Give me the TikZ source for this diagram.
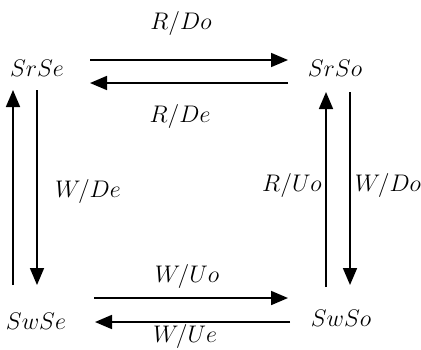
\documentclass[tikz,border=0pt]{standalone}
\usetikzlibrary{arrows.meta,calc}
\begin{document}
\begin{tikzpicture}[x=0.5pt,y=-0.5pt,
  st/.style={inner sep=0pt,font=\fontsize{11.5}{13}\selectfont},
  lb/.style={inner sep=0pt,font=\fontsize{11.5}{13}\selectfont},
  conn/.style={line width=0.85pt,-{Triangle[length=8.5pt,width=7pt]}}]
\useasboundingbox (0,0) rectangle (421,349);
\node[st] (SrSe) at (37,68) {$SrSe$};
\node[st] (SrSo) at (335,68) {$SrSo$};
\node[st] (SwSe) at (36,321) {$SwSe$};
\node[st] (SwSo) at (341,318) {$SwSo$};
% top
\draw[conn] ($(SrSe)+(53,-8)$) -- ($(SrSo)+(-47,-8)$);
\draw[conn] ($(SrSo)+(-47,15)$) -- ($(SrSe)+(53,15)$);
\node[lb] (lRDo) at (181,23) {$R/Do$};
\node[lb] (lRDe) at (180,116) {$R/De$};
% bottom
\draw[conn] ($(SwSe)+(58,-23)$) -- ($(SwSo)+(-53,-20)$);
\draw[conn] ($(SwSo)+(-51,4)$) -- ($(SwSe)+(59,1)$);
\node[lb] (lWUo) at (187,276) {$W/Uo$};
\node[lb] (lWUe) at (185,336) {$W/Ue$};
% left
\draw[conn] ($(SwSe)+(-23,-36)$) -- ($(SrSe)+(-24,22)$);
\draw[conn] ($(SrSe)+(0,22)$) -- ($(SwSe)+(1,-36)$);
\node[lb] (lWDe) at (88,191) {$W/De$};
% right
\draw[conn] ($(SwSo)+(-15,-31)$) -- ($(SrSo)+(-9,24)$);
\draw[conn] ($(SrSo)+(15,24)$) -- ($(SwSo)+(9,-33)$);
\node[lb] (lRUo) at (292,185) {$R/Uo$};
\node[lb] (lWDo) at (388,185) {$W/Do$};
\end{tikzpicture}
\end{document}
